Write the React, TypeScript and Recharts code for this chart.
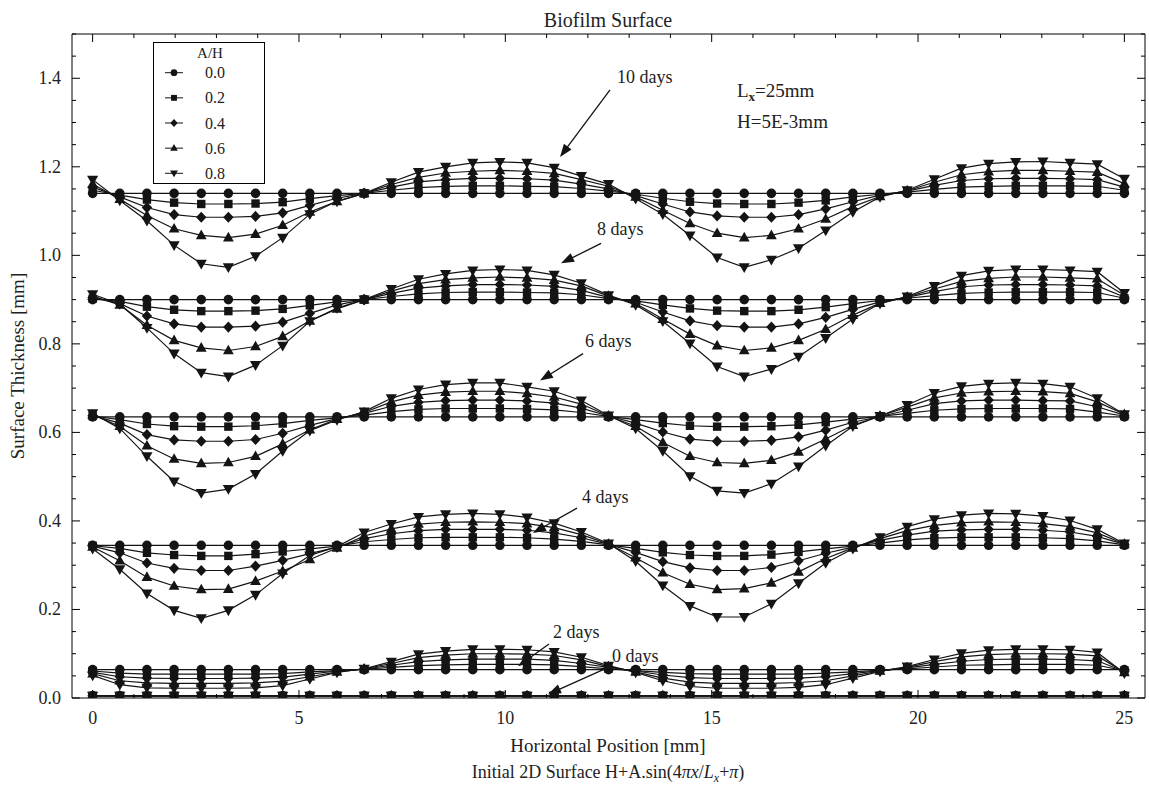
import React from 'react';
import { LineChart, Line, XAxis, YAxis, ReferenceLine, ReferenceDot } from 'recharts';

// Sample positions along the surface [mm] (39 nodes over Lx = 25 mm)
const positions = [
  0, 0.658, 1.316, 1.974, 2.632, 3.289, 3.947, 4.605, 5.263, 5.921,
  6.579, 7.237, 7.895, 8.553, 9.211, 9.868, 10.526, 11.184, 11.842, 12.5,
  13.158, 13.816, 14.474, 15.132, 15.789, 16.447, 17.105, 17.763, 18.421, 19.079,
  19.737, 20.395, 21.053, 21.711, 22.368, 23.026, 23.684, 24.342, 25,
];

const ampRatios = ['0.0', '0.2', '0.4', '0.6', '0.8'];

const xTickValues = [0, 1, 2, 3, 4, 5, 6, 7, 8, 9, 10, 11, 12, 13, 14, 15, 16, 17, 18, 19, 20, 21, 22, 23, 24, 25];
const xLabelValues = [0, 5, 10, 15, 20, 25];
const yTickValues = [
  0, 0.05, 0.1, 0.15, 0.2, 0.25, 0.3, 0.35, 0.4, 0.45, 0.5, 0.55, 0.6, 0.65, 0.7, 0.75,
  0.8, 0.85, 0.9, 0.95, 1.0, 1.05, 1.1, 1.15, 1.2, 1.25, 1.3, 1.35, 1.4, 1.45, 1.5,
];
const yLabelValues = [0, 0.2, 0.4, 0.6, 0.8, 1.0, 1.2, 1.4];

// ---- 0 days (initial surface, H = 5E-3 mm) ----
const d00_00 = [0.005, 0.005, 0.005, 0.005, 0.005, 0.005, 0.005, 0.005, 0.005, 0.005, 0.005, 0.005, 0.005, 0.005, 0.005, 0.005, 0.005, 0.005, 0.005, 0.005, 0.005, 0.005, 0.005, 0.005, 0.005, 0.005, 0.005, 0.005, 0.005, 0.005, 0.005, 0.005, 0.005, 0.005, 0.005, 0.005, 0.005, 0.005, 0.005];
const d00_02 = [0.005, 0.005, 0.005, 0.005, 0.005, 0.005, 0.005, 0.005, 0.005, 0.005, 0.005, 0.005, 0.005, 0.005, 0.005, 0.005, 0.005, 0.005, 0.005, 0.005, 0.005, 0.005, 0.005, 0.005, 0.005, 0.005, 0.005, 0.005, 0.005, 0.005, 0.005, 0.005, 0.005, 0.005, 0.005, 0.005, 0.005, 0.005, 0.005];
const d00_04 = [0.005, 0.005, 0.005, 0.005, 0.005, 0.005, 0.005, 0.005, 0.005, 0.005, 0.005, 0.005, 0.005, 0.005, 0.005, 0.005, 0.005, 0.005, 0.005, 0.005, 0.005, 0.005, 0.005, 0.005, 0.005, 0.005, 0.005, 0.005, 0.005, 0.005, 0.005, 0.005, 0.005, 0.005, 0.005, 0.005, 0.005, 0.005, 0.005];
const d00_06 = [0.005, 0.005, 0.005, 0.005, 0.005, 0.005, 0.005, 0.005, 0.005, 0.005, 0.005, 0.005, 0.005, 0.005, 0.005, 0.005, 0.005, 0.005, 0.005, 0.005, 0.005, 0.005, 0.005, 0.005, 0.005, 0.005, 0.005, 0.005, 0.005, 0.005, 0.005, 0.005, 0.005, 0.005, 0.005, 0.005, 0.005, 0.005, 0.005];
const d00_08 = [0.005, 0.005, 0.005, 0.005, 0.005, 0.005, 0.005, 0.005, 0.005, 0.005, 0.005, 0.005, 0.005, 0.005, 0.005, 0.005, 0.005, 0.005, 0.005, 0.005, 0.005, 0.005, 0.005, 0.005, 0.005, 0.005, 0.005, 0.005, 0.005, 0.005, 0.005, 0.005, 0.005, 0.005, 0.005, 0.005, 0.005, 0.005, 0.005];

// ---- 2 days ----
const d02_00 = [0.064, 0.064, 0.064, 0.064, 0.064, 0.064, 0.064, 0.064, 0.064, 0.064, 0.064, 0.064, 0.064, 0.064, 0.064, 0.064, 0.064, 0.064, 0.064, 0.064, 0.064, 0.064, 0.064, 0.064, 0.064, 0.064, 0.064, 0.064, 0.064, 0.064, 0.064, 0.064, 0.064, 0.064, 0.064, 0.064, 0.064, 0.064, 0.064];
const d02_02 = [
  0.061, 0.056, 0.054, 0.054, 0.054, 0.054, 0.054, 0.055, 0.059, 0.062,
  0.065, 0.069, 0.073, 0.075, 0.076, 0.076, 0.076, 0.075, 0.071, 0.066,
  0.062, 0.058, 0.055, 0.054, 0.054, 0.054, 0.054, 0.056, 0.059, 0.063,
  0.066, 0.070, 0.074, 0.075, 0.076, 0.076, 0.076, 0.074, 0.062,
];
const d02_04 = [
  0.058, 0.048, 0.045, 0.044, 0.044, 0.044, 0.045, 0.047, 0.054, 0.061,
  0.065, 0.074, 0.082, 0.086, 0.088, 0.088, 0.088, 0.085, 0.078, 0.069,
  0.061, 0.052, 0.046, 0.044, 0.044, 0.044, 0.045, 0.048, 0.055, 0.062,
  0.068, 0.076, 0.083, 0.087, 0.088, 0.088, 0.087, 0.084, 0.060,
];
const d02_06 = [
  0.055, 0.039, 0.034, 0.033, 0.033, 0.033, 0.034, 0.038, 0.048, 0.059,
  0.066, 0.078, 0.091, 0.097, 0.100, 0.100, 0.099, 0.096, 0.086, 0.071,
  0.059, 0.045, 0.036, 0.033, 0.033, 0.033, 0.035, 0.039, 0.050, 0.061,
  0.069, 0.082, 0.093, 0.098, 0.100, 0.100, 0.099, 0.095, 0.058,
];
const d02_08 = [
  0.051, 0.030, 0.023, 0.022, 0.022, 0.022, 0.023, 0.028, 0.043, 0.058,
  0.066, 0.082, 0.099, 0.106, 0.110, 0.110, 0.109, 0.104, 0.092, 0.073,
  0.058, 0.039, 0.026, 0.022, 0.022, 0.022, 0.024, 0.030, 0.045, 0.060,
  0.071, 0.087, 0.101, 0.108, 0.110, 0.110, 0.109, 0.103, 0.056,
];

// ---- 4 days ----
const d04_00 = [0.345, 0.345, 0.345, 0.345, 0.345, 0.345, 0.345, 0.345, 0.345, 0.345, 0.345, 0.345, 0.345, 0.345, 0.345, 0.345, 0.345, 0.345, 0.345, 0.345, 0.345, 0.345, 0.345, 0.345, 0.345, 0.345, 0.345, 0.345, 0.345, 0.345, 0.345, 0.345, 0.345, 0.345, 0.345, 0.345, 0.345, 0.345, 0.345];
const d04_02 = [
  0.344, 0.338, 0.328, 0.323, 0.321, 0.321, 0.325, 0.331, 0.337, 0.343,
  0.353, 0.358, 0.362, 0.363, 0.363, 0.363, 0.362, 0.359, 0.354, 0.346,
  0.338, 0.329, 0.323, 0.321, 0.321, 0.324, 0.330, 0.337, 0.343, 0.350,
  0.357, 0.361, 0.363, 0.363, 0.363, 0.362, 0.360, 0.355, 0.346,
];
const d04_04 = [
  0.343, 0.328, 0.305, 0.293, 0.288, 0.288, 0.298, 0.311, 0.326, 0.341,
  0.360, 0.371, 0.378, 0.381, 0.381, 0.381, 0.379, 0.373, 0.362, 0.347,
  0.329, 0.308, 0.294, 0.288, 0.288, 0.295, 0.310, 0.327, 0.341, 0.356,
  0.368, 0.377, 0.380, 0.381, 0.381, 0.379, 0.375, 0.365, 0.347,
];
const d04_06 = [
  0.341, 0.310, 0.273, 0.253, 0.245, 0.246, 0.264, 0.287, 0.313, 0.339,
  0.366, 0.382, 0.393, 0.397, 0.398, 0.397, 0.394, 0.385, 0.369, 0.348,
  0.317, 0.283, 0.257, 0.245, 0.247, 0.260, 0.285, 0.315, 0.339, 0.360,
  0.378, 0.390, 0.396, 0.398, 0.397, 0.394, 0.387, 0.373, 0.348,
];
const d04_08 = [
  0.337, 0.291, 0.236, 0.198, 0.180, 0.198, 0.233, 0.281, 0.322, 0.342,
  0.374, 0.393, 0.409, 0.415, 0.417, 0.415, 0.408, 0.395, 0.375, 0.349,
  0.309, 0.254, 0.208, 0.183, 0.183, 0.213, 0.259, 0.305, 0.337, 0.363,
  0.387, 0.404, 0.413, 0.417, 0.416, 0.411, 0.401, 0.381, 0.349,
];

// ---- 6 days ----
const d06_00 = [0.635, 0.635, 0.635, 0.635, 0.635, 0.635, 0.635, 0.635, 0.635, 0.635, 0.635, 0.635, 0.635, 0.635, 0.635, 0.635, 0.635, 0.635, 0.635, 0.635, 0.635, 0.635, 0.635, 0.635, 0.635, 0.635, 0.635, 0.635, 0.635, 0.635, 0.635, 0.635, 0.635, 0.635, 0.635, 0.635, 0.635, 0.635, 0.635];
const d06_02 = [
  0.637, 0.629, 0.619, 0.614, 0.613, 0.613, 0.615, 0.620, 0.627, 0.633,
  0.639, 0.647, 0.652, 0.654, 0.654, 0.654, 0.653, 0.651, 0.645, 0.636,
  0.629, 0.621, 0.615, 0.613, 0.613, 0.614, 0.617, 0.623, 0.630, 0.636,
  0.643, 0.650, 0.653, 0.654, 0.654, 0.654, 0.653, 0.646, 0.637,
];
const d06_04 = [
  0.638, 0.621, 0.595, 0.583, 0.580, 0.580, 0.584, 0.598, 0.616, 0.631,
  0.643, 0.659, 0.668, 0.672, 0.673, 0.673, 0.671, 0.666, 0.655, 0.637,
  0.621, 0.601, 0.585, 0.580, 0.580, 0.582, 0.590, 0.605, 0.623, 0.636,
  0.650, 0.665, 0.671, 0.673, 0.673, 0.672, 0.671, 0.658, 0.639,
];
const d06_06 = [
  0.640, 0.614, 0.570, 0.540, 0.530, 0.532, 0.546, 0.574, 0.606, 0.630,
  0.645, 0.669, 0.684, 0.691, 0.693, 0.693, 0.688, 0.680, 0.664, 0.637,
  0.614, 0.577, 0.546, 0.532, 0.530, 0.537, 0.556, 0.585, 0.616, 0.637,
  0.657, 0.678, 0.689, 0.692, 0.693, 0.692, 0.688, 0.669, 0.641,
];
const d06_08 = [
  0.643, 0.609, 0.546, 0.489, 0.463, 0.472, 0.506, 0.558, 0.604, 0.628,
  0.647, 0.677, 0.697, 0.708, 0.712, 0.712, 0.703, 0.693, 0.672, 0.638,
  0.609, 0.558, 0.501, 0.468, 0.463, 0.484, 0.523, 0.570, 0.614, 0.637,
  0.662, 0.689, 0.704, 0.710, 0.712, 0.710, 0.703, 0.677, 0.641,
];

// ---- 8 days ----
const d08_00 = [0.900, 0.900, 0.900, 0.900, 0.900, 0.900, 0.900, 0.900, 0.900, 0.900, 0.900, 0.900, 0.900, 0.900, 0.900, 0.900, 0.900, 0.900, 0.900, 0.900, 0.900, 0.900, 0.900, 0.900, 0.900, 0.900, 0.900, 0.900, 0.900, 0.900, 0.900, 0.900, 0.900, 0.900, 0.900, 0.900, 0.900, 0.900, 0.900];
const d08_02 = [
  0.902, 0.896, 0.884, 0.877, 0.874, 0.874, 0.875, 0.879, 0.887, 0.895,
  0.900, 0.907, 0.913, 0.916, 0.917, 0.917, 0.916, 0.915, 0.911, 0.902,
  0.897, 0.888, 0.880, 0.875, 0.874, 0.874, 0.877, 0.883, 0.891, 0.898,
  0.903, 0.909, 0.914, 0.916, 0.917, 0.917, 0.917, 0.916, 0.903,
];
const d08_04 = [
  0.905, 0.891, 0.863, 0.845, 0.838, 0.838, 0.840, 0.849, 0.869, 0.888,
  0.900, 0.914, 0.926, 0.931, 0.934, 0.934, 0.933, 0.930, 0.921, 0.905,
  0.894, 0.872, 0.852, 0.841, 0.838, 0.838, 0.845, 0.860, 0.878, 0.895,
  0.905, 0.918, 0.929, 0.933, 0.934, 0.934, 0.933, 0.931, 0.906,
];
const d08_06 = [
  0.908, 0.888, 0.842, 0.808, 0.791, 0.785, 0.794, 0.817, 0.852, 0.879,
  0.900, 0.919, 0.936, 0.945, 0.949, 0.951, 0.949, 0.944, 0.931, 0.908,
  0.891, 0.856, 0.822, 0.796, 0.785, 0.791, 0.808, 0.833, 0.865, 0.892,
  0.906, 0.924, 0.941, 0.948, 0.951, 0.951, 0.949, 0.947, 0.910,
];
const d08_08 = [
  0.912, 0.890, 0.836, 0.778, 0.735, 0.726, 0.752, 0.796, 0.851, 0.881,
  0.900, 0.924, 0.946, 0.958, 0.966, 0.968, 0.966, 0.956, 0.937, 0.910,
  0.888, 0.851, 0.801, 0.749, 0.726, 0.743, 0.771, 0.813, 0.856, 0.891,
  0.907, 0.931, 0.954, 0.965, 0.968, 0.968, 0.966, 0.963, 0.915,
];

// ---- 10 days ----
const d10_00 = [1.140, 1.140, 1.140, 1.140, 1.140, 1.140, 1.140, 1.140, 1.140, 1.140, 1.140, 1.140, 1.140, 1.140, 1.140, 1.140, 1.140, 1.140, 1.140, 1.140, 1.140, 1.140, 1.140, 1.140, 1.140, 1.140, 1.140, 1.140, 1.140, 1.140, 1.140, 1.140, 1.140, 1.140, 1.140, 1.140, 1.140, 1.140, 1.140];
const d10_02 = [
  1.147, 1.136, 1.126, 1.119, 1.116, 1.116, 1.117, 1.120, 1.128, 1.135,
  1.140, 1.147, 1.153, 1.156, 1.157, 1.157, 1.156, 1.155, 1.151, 1.145,
  1.138, 1.129, 1.121, 1.117, 1.116, 1.116, 1.119, 1.124, 1.132, 1.138,
  1.143, 1.149, 1.154, 1.156, 1.157, 1.157, 1.157, 1.156, 1.147,
];
const d10_04 = [
  1.154, 1.132, 1.108, 1.092, 1.086, 1.086, 1.088, 1.096, 1.113, 1.129,
  1.140, 1.154, 1.166, 1.171, 1.174, 1.174, 1.173, 1.170, 1.161, 1.150,
  1.135, 1.116, 1.098, 1.089, 1.086, 1.086, 1.092, 1.105, 1.121, 1.136,
  1.145, 1.158, 1.169, 1.173, 1.174, 1.174, 1.173, 1.171, 1.154,
];
const d10_06 = [
  1.161, 1.127, 1.090, 1.060, 1.045, 1.040, 1.048, 1.068, 1.098, 1.122,
  1.140, 1.160, 1.176, 1.186, 1.190, 1.192, 1.190, 1.185, 1.171, 1.156,
  1.132, 1.102, 1.072, 1.050, 1.040, 1.045, 1.060, 1.082, 1.110, 1.133,
  1.146, 1.165, 1.182, 1.189, 1.192, 1.192, 1.190, 1.188, 1.162,
];
const d10_08 = [
  1.171, 1.124, 1.078, 1.023, 0.981, 0.973, 0.998, 1.040, 1.093, 1.122,
  1.140, 1.165, 1.188, 1.200, 1.209, 1.211, 1.209, 1.198, 1.179, 1.161,
  1.128, 1.093, 1.045, 0.995, 0.973, 0.990, 1.016, 1.056, 1.098, 1.132,
  1.147, 1.172, 1.197, 1.207, 1.211, 1.212, 1.209, 1.206, 1.173,
];

const groups = [
  { id: 'd00', series: [d00_00, d00_02, d00_04, d00_06, d00_08] },
  { id: 'd02', series: [d02_00, d02_02, d02_04, d02_06, d02_08] },
  { id: 'd04', series: [d04_00, d04_02, d04_04, d04_06, d04_08] },
  { id: 'd06', series: [d06_00, d06_02, d06_04, d06_06, d06_08] },
  { id: 'd08', series: [d08_00, d08_02, d08_04, d08_06, d08_08] },
  { id: 'd10', series: [d10_00, d10_02, d10_04, d10_06, d10_08] },
];

const rows = positions.map((x, i) => {
  const r: Record<string, number> = { x };
  groups.forEach((g) => g.series.forEach((s, k) => { r[`${g.id}_${k}`] = s[i]; }));
  return r;
});

// Arrow annotations in data coordinates: label anchor, arrow tail, arrow tip
const arrowNotes = [
  { label: '10 days', text: [12.707, 1.389], from: [12.537, 1.374], to: [11.325, 1.222] },
  { label: '8 days', text: [12.222, 1.045], from: [12.32, 1.027], to: [11.35, 0.982] },
  { label: '6 days', text: [11.931, 0.792], from: [11.883, 0.778], to: [10.841, 0.717] },
  { label: '4 days', text: [11.858, 0.441], from: [11.737, 0.429], to: [10.671, 0.373] },
  { label: '2 days', text: [11.156, 0.135], from: [11.059, 0.122], to: [10.308, 0.072] },
  { label: '0 days', text: [12.586, 0.081], from: [12.44, 0.067], to: [11.034, 0.0084] },
];

const FONT = "'Liberation Serif', 'Times New Roman', Times, serif";
const INK = '#141414';
const W = 1149;
const H = 790;

type Kind = 'circle' | 'square' | 'diamond' | 'up' | 'down';
const markerKinds: Kind[] = ['circle', 'square', 'diamond', 'up', 'down'];

function Marker({ kind, cx, cy, s = 1 }: { kind: Kind; cx: number; cy: number; s?: number }) {
  if (cx == null || cy == null || Number.isNaN(cx) || Number.isNaN(cy)) return null;
  switch (kind) {
    case 'circle':
      return <circle cx={cx} cy={cy} r={4.8 * s} fill={INK} />;
    case 'square':
      return <rect x={cx - 4.2 * s} y={cy - 4.2 * s} width={8.4 * s} height={8.4 * s} fill={INK} />;
    case 'diamond':
      return (
        <polygon
          points={`${cx},${cy - 5.6 * s} ${cx + 5.2 * s},${cy} ${cx},${cy + 5.6 * s} ${cx - 5.2 * s},${cy}`}
          fill={INK}
        />
      );
    case 'up':
      return (
        <polygon
          points={`${cx},${cy - 5.8 * s} ${cx + 5.4 * s},${cy + 3.8 * s} ${cx - 5.4 * s},${cy + 3.8 * s}`}
          fill={INK}
        />
      );
    default:
      return (
        <polygon
          points={`${cx - 5.6 * s},${cy - 4 * s} ${cx + 5.6 * s},${cy - 4 * s} ${cx},${cy + 5.8 * s}`}
          fill={INK}
        />
      );
  }
}

const isMajorY = (v: number) => yLabelValues.some((l) => Math.abs(l - v) < 1e-6);

function BottomTick(props: any) {
  const { x, y, payload } = props;
  const v = payload.value;
  const major = xLabelValues.includes(v);
  return (
    <g>
      <line x1={x} x2={x} y1={y} y2={y - (major ? 8 : 4)} stroke="#000" strokeWidth={1} />
      {major && (
        <text x={x} y={y + 26} textAnchor="middle" fontFamily={FONT} fontSize={18} fill="#222">
          {v}
        </text>
      )}
    </g>
  );
}

function TopTick(props: any) {
  const { x, y, payload } = props;
  const major = xLabelValues.includes(payload.value);
  return <line x1={x} x2={x} y1={y} y2={y + (major ? 8 : 4)} stroke="#000" strokeWidth={1} />;
}

function LeftTick(props: any) {
  const { x, y, payload } = props;
  const v = payload.value;
  const major = isMajorY(v);
  return (
    <g>
      <line x1={x} x2={x + (major ? 8 : 4)} y1={y} y2={y} stroke="#000" strokeWidth={1} />
      {major && (
        <text x={x - 11} y={y + 6} textAnchor="end" fontFamily={FONT} fontSize={18} fill="#222">
          {v.toFixed(1)}
        </text>
      )}
    </g>
  );
}

function RightTick(props: any) {
  const { x, y, payload } = props;
  const major = isMajorY(payload.value);
  return <line x1={x} x2={x - (major ? 8 : 4)} y1={y} y2={y} stroke="#000" strokeWidth={1} />;
}

function ArrowShape(props: any) {
  const { x1, y1, x2, y2 } = props;
  if ([x1, y1, x2, y2].some((v) => v == null || Number.isNaN(v))) return null;
  const dx = x2 - x1;
  const dy = y2 - y1;
  const len = Math.hypot(dx, dy) || 1;
  const ux = dx / len;
  const uy = dy / len;
  const head = 13;
  const half = 4.8;
  const bx = x2 - ux * head;
  const by = y2 - uy * head;
  return (
    <g>
      <line x1={x1} y1={y1} x2={bx + ux * 2} y2={by + uy * 2} stroke={INK} strokeWidth={1.3} />
      <polygon
        points={`${x2},${y2} ${bx - uy * half},${by + ux * half} ${bx + uy * half},${by - ux * half}`}
        fill={INK}
      />
    </g>
  );
}

function NoteText(label: string) {
  return (p: any) => (
    <text x={p.cx} y={p.cy} fontFamily={FONT} fontSize={18} fill="#222">
      {label}
    </text>
  );
}

export default function App() {
  const axisLine = { stroke: '#000', strokeWidth: 1 };
  return (
    <div style={{ position: 'relative', width: W, height: H, background: '#fff' }}>
      <style>{'body{margin:0;background:#fff}'}</style>
      <LineChart
        width={W}
        height={H}
        data={rows}
        margin={{ top: 0, right: 0, bottom: 0, left: 0 }}
      >
        <XAxis
          xAxisId="b"
          dataKey="x"
          type="number"
          domain={[-0.5, 25.5]}
          allowDataOverflow
          ticks={xTickValues}
          interval={0}
          height={92}
          tickSize={0}
          tickMargin={0}
          tickLine={false}
          axisLine={axisLine}
          tick={<BottomTick />}
        />
        <XAxis
          xAxisId="t"
          orientation="top"
          dataKey="x"
          type="number"
          domain={[-0.5, 25.5]}
          allowDataOverflow
          ticks={xTickValues}
          interval={0}
          height={34}
          tickSize={0}
          tickMargin={0}
          tickLine={false}
          axisLine={axisLine}
          tick={<TopTick />}
        />
        <YAxis
          yAxisId="l"
          type="number"
          domain={[0, 1.5]}
          allowDataOverflow
          ticks={yTickValues}
          interval={0}
          width={72}
          tickSize={0}
          tickMargin={0}
          tickLine={false}
          axisLine={axisLine}
          tick={<LeftTick />}
        />
        <YAxis
          yAxisId="r"
          orientation="right"
          type="number"
          domain={[0, 1.5]}
          allowDataOverflow
          ticks={yTickValues}
          interval={0}
          width={4}
          tickSize={0}
          tickMargin={0}
          tickLine={false}
          axisLine={axisLine}
          tick={<RightTick />}
        />
        {groups.map((g) =>
          g.series.map((_, k) => {
            const key = `${g.id}_${k}`;
            const kind = markerKinds[k];
            return (
              <Line
                key={key}
                xAxisId="b"
                yAxisId="l"
                type="linear"
                dataKey={key}
                stroke={INK}
                strokeWidth={1.2}
                isAnimationActive={false}
                activeDot={false}
                dot={(p: any) => <Marker key={`${key}-${p.index}`} kind={kind} cx={p.cx} cy={p.cy} />}
              />
            );
          })
        )}
        {arrowNotes.map((n) => (
          <ReferenceLine
            key={`arrow-${n.label}`}
            xAxisId="b"
            yAxisId="l"
            segment={[
              { x: n.from[0], y: n.from[1] },
              { x: n.to[0], y: n.to[1] },
            ]}
            ifOverflow="visible"
            shape={ArrowShape}
          />
        ))}
        {arrowNotes.map((n) => (
          <ReferenceDot
            key={`note-${n.label}`}
            xAxisId="b"
            yAxisId="l"
            x={n.text[0]}
            y={n.text[1]}
            r={0}
            ifOverflow="visible"
            shape={NoteText(n.label)}
          />
        ))}
      </LineChart>

      <svg
        width={W}
        height={H}
        style={{ position: 'absolute', left: 0, top: 0, pointerEvents: 'none' }}
        fontFamily={FONT}
      >
        <text x={608} y={27} textAnchor="middle" fontSize={20} fill="#222">
          Biofilm Surface
        </text>

        <text x={737} y={97} fontSize={19} fill="#222">
          L
          <tspan fontSize={13} fontWeight="bold" dy={4}>x</tspan>
          <tspan dy={-4}>=25mm</tspan>
        </text>
        <text x={737} y={128} fontSize={19} fill="#222">
          H=5E-3mm
        </text>

        <text x={608} y={752} textAnchor="middle" fontSize={19} fill="#222">
          Horizontal Position [mm]
        </text>
        <text x={608} y={778} textAnchor="middle" fontSize={18} fill="#222">
          Initial 2D Surface H+A.sin(4
          <tspan fontStyle="italic">πx</tspan>/
          <tspan fontStyle="italic">L</tspan>
          <tspan fontStyle="italic" fontSize={12} dy={4}>x</tspan>
          <tspan dy={-4}>+</tspan>
          <tspan fontStyle="italic">π</tspan>)
        </text>

        <text
          x={24}
          y={366}
          textAnchor="middle"
          fontSize={19}
          fill="#222"
          transform="rotate(-90 24 366)"
        >
          Surface Thickness [mm]
        </text>

        {/* A/H legend */}
        <rect x={153.5} y={42.5} width={111} height={141} fill="#fff" stroke="#000" strokeWidth={1} />
        <text x={210} y={58} textAnchor="middle" fontSize={15} fill="#222">
          A/H
        </text>
        {ampRatios.map((lab, k) => {
          const cy = 72.7 + k * 25.15;
          return (
            <g key={lab}>
              <line x1={165} x2={183} y1={cy} y2={cy} stroke={INK} strokeWidth={1} />
              <Marker kind={markerKinds[k]} cx={174} cy={cy} s={0.7} />
              <text x={205} y={cy + 5.5} fontSize={16} fill="#222">
                {lab}
              </text>
            </g>
          );
        })}
      </svg>
    </div>
  );
}
